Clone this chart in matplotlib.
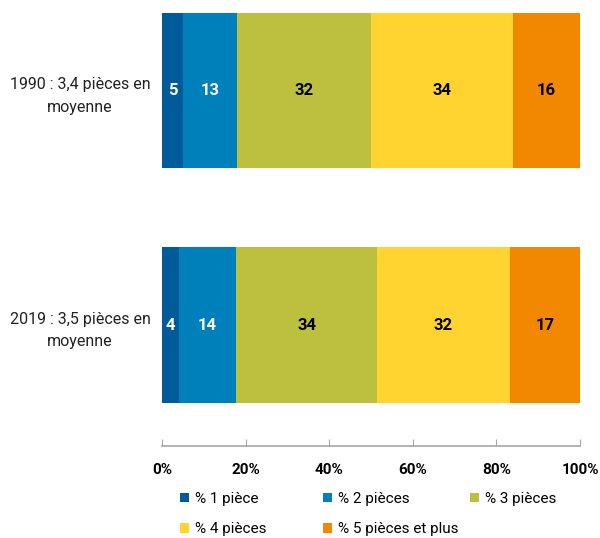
import matplotlib
matplotlib.use("Agg")
import matplotlib.pyplot as plt
from matplotlib.patches import Patch
import numpy as np

plt.rcParams['font.family'] = ['Roboto', 'DejaVu Sans']

categories = ["2019 : 3,5 pièces en\nmoyenne", "1990 : 3,4 pièces en\nmoyenne"]
series_names = ["% 1 pièce", "% 2 pièces", "% 3 pièces", "% 4 pièces", "% 5 pièces et plus"]
values_2019 = [4, 14, 34, 32, 17]
values_1990 = [5, 13, 32, 34, 16]
colors = ["#005B9B", "#0080BB", "#BCC03E", "#FFD430", "#F18800"]
label_colors = ["white", "white", "black", "black", "black"]
tick_labels = ["0%", "20%", "40%", "60%", "80%", "100%"]

data = np.array([values_2019, values_1990], dtype=float)
shares = data / data.sum(axis=1, keepdims=True) * 100

fig = plt.figure(figsize=(6, 5.38), dpi=100)
ax = fig.add_axes([162/600, 1-446/538, (580-162)/600, 446/538])

y = np.arange(len(categories))
left = np.zeros(len(categories))
handles = []
for i, name in enumerate(series_names):
    ax.barh(y, shares[:, i], left=left, height=0.665, color=colors[i], label=name)
    for j in range(len(categories)):
        ax.text(left[j] + shares[j, i] / 2, y[j], f"{int(data[j, i])}",
                ha='center', va='center', fontsize=12, fontweight='bold',
                color=label_colors[i])
    left += shares[:, i]
    handles.append(Patch(facecolor=colors[i], label=name))

ax.set_xlim(0, 100)
ax.set_ylim(-0.516, 1.386)
ax.set_xticks(np.linspace(0, 100, 6))
ax.set_xticklabels(tick_labels, fontsize=11, fontweight='bold')
ax.set_yticks(y)
ax.set_yticklabels(categories, fontsize=11.5, ha='center', color='#222222',
                   linespacing=1.65)
ax.tick_params(axis='y', length=0, pad=59)
ax.tick_params(axis='x', direction='in', length=5, color='#A6A6A6', pad=12)
for s in ['top', 'right', 'left']:
    ax.spines[s].set_visible(False)
ax.spines['bottom'].set_color('#A6A6A6')
ax.spines['bottom'].set_linewidth(1.2)

columns = [([0, 3], 180), ([1, 4], 323), ([2], 470)]
for idx, xpix in columns:
    fig.legend([handles[k] for k in idx], [series_names[k] for k in idx],
               ncol=1, frameon=False, loc='upper left',
               bbox_to_anchor=(xpix/600, 1-492/538), fontsize=11,
               handlelength=0.6, handleheight=0.6, handletextpad=0.35,
               labelspacing=1.05, borderaxespad=0, borderpad=0)

fig.savefig("out.png", dpi=100)
